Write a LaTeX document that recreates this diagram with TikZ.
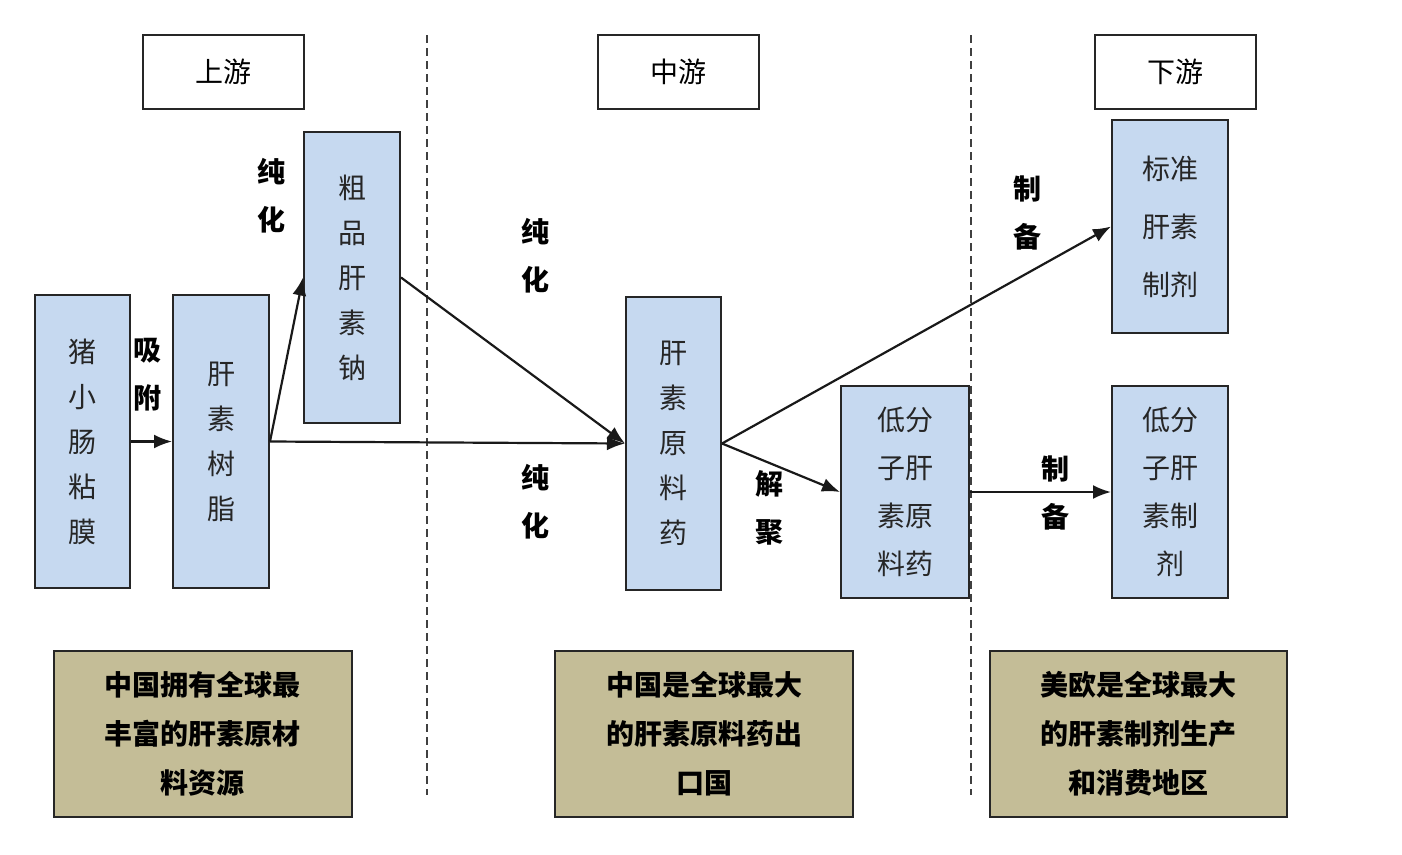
\documentclass[tikz,border=0pt]{standalone}
\usepackage{fontspec}
\newfontfamily\cjk{Noto Sans CJK SC}
\usetikzlibrary{arrows.meta}
\definecolor{boxblue}{HTML}{C6D9F0}
\definecolor{boxtan}{HTML}{C4BD97}
\tikzset{
  bluebox/.style={draw=black!85, line width=2pt, fill=boxblue, align=center, inner sep=0pt,
    font={\cjk\fontsize{28}{45}\selectfont}, text=black!85},
  headbox/.style={draw=black!85, line width=2pt, fill=white, align=center, inner sep=0pt,
    font={\cjk\fontsize{28}{40}\selectfont}, minimum width=161pt, minimum height=74pt},
  tanbox/.style={draw=black!85, line width=2pt, fill=boxtan, align=center, inner sep=0pt,
    font={\cjk\bfseries\fontsize{28}{49}\selectfont}, minimum width=298pt, minimum height=166pt},
  lbl/.style={align=center, inner sep=0pt, font={\cjk\bfseries\fontsize{28}{48}\selectfont}},
  conn/.style={line width=2.2pt, draw=black!90},
  arr/.style={conn, -{Latex[length=18pt,width=14pt]}},
  divider/.style={line width=2pt, draw=black!75, dash pattern=on 8pt off 5pt}
}
\begin{document}
\begin{tikzpicture}[x=1pt,y=-1pt]
\useasboundingbox (0,0) rectangle (1402,854);
% dividers
\draw[divider] (427,35) -- (427,795);
\draw[divider] (971,35) -- (971,795);
% headers
\node[headbox] (up) at (223,72) {上游};
\node[headbox] (mid) at (678.5,72) {中游};
\node[headbox] (down) at (1175,72) {下游};
% blue boxes
\node[bluebox, minimum width=95pt, minimum height=293pt] (mucosa) at (82.5,441.5) {猪\\小\\肠\\粘\\膜};
\node[bluebox, minimum width=96pt, minimum height=293pt] (resin) at (221,441.5) {肝\\素\\树\\脂};
\node[bluebox, minimum width=96pt, minimum height=291pt] (crude) at (352,277.5) {粗\\品\\肝\\素\\钠};
\node[bluebox, minimum width=95pt, minimum height=293pt] (api) at (673.5,443.5) {肝\\素\\原\\料\\药};
\node[bluebox, minimum width=128pt, minimum height=212pt, font={\cjk\fontsize{28}{48}\selectfont}] (lmw) at (905,492) {低分\\子肝\\素原\\料药};
\node[bluebox, minimum width=116pt, minimum height=213pt, font={\cjk\fontsize{28}{58}\selectfont}] (std) at (1170,226.5) {标准\\肝素\\制剂};
\node[bluebox, minimum width=116pt, minimum height=212pt, font={\cjk\fontsize{28}{48}\selectfont}] (lmwp) at (1170,492) {低分\\子肝\\素制\\剂};
% tan boxes
\node[tanbox] (note1) at (202.5,734) {中国拥有全球最\\丰富的肝素原材\\料资源};
\node[tanbox] (note2) at (704,734) {中国是全球最大\\的肝素原料药出\\口国};
\node[tanbox, minimum width=297pt] (note3) at (1138.5,734) {美欧是全球最大\\的肝素制剂生产\\和消费地区};
% connectors
\draw[arr] (mucosa.east) -- (resin.east -| resin.west);
\draw[arr] (resin.east) -- (crude.west);
\draw[arr] (resin.east) -- (api.west);
\draw[arr] (crude.east) -- (api.west);
\draw[arr] (api.east) -- (std.west);
\draw[arr] (api.east) -- (lmw.west);
\draw[arr] (lmw.east) -- (lmwp.west);
% labels
\node[lbl] (l1) at (147,375) {吸\\附};
\node[lbl] (l2) at (271,196) {纯\\化};
\node[lbl] (l3) at (535,256) {纯\\化};
\node[lbl] (l4) at (535,502) {纯\\化};
\node[lbl] (l5) at (1027,213) {制\\备};
\node[lbl] (l6) at (769,508) {解\\聚};
\node[lbl] (l7) at (1055,493) {制\\备};
\end{tikzpicture}
\end{document}
